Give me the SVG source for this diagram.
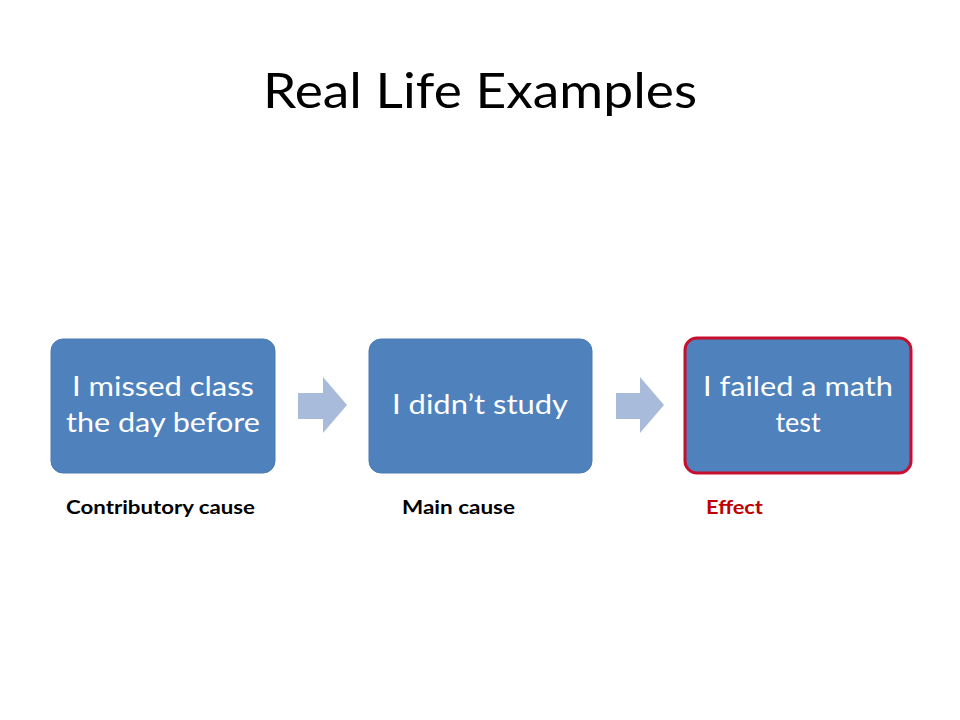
<svg xmlns="http://www.w3.org/2000/svg" width="960" height="720" viewBox="0 0 960 720">
<style>
.box{fill:#4F81BD;stroke:#4A7AB3;stroke-width:1}
.eff{fill:#4F81BD;stroke:#C8102E;stroke-width:3}
.bt{font-family:Lato,"Open Sans",sans-serif;font-size:27px;fill:#FFFFFF;text-anchor:middle}
.lab{font-family:Lato,"Open Sans",sans-serif;font-size:19px;font-weight:bold;fill:#000000}
.arr{fill:#A9BBDA}
</style>
<rect width="960" height="720" fill="#FFFFFF"/>
<text x="480" y="108" font-family="Lato,'Open Sans',sans-serif" font-size="48" fill="#000000" text-anchor="middle" textLength="434" lengthAdjust="spacingAndGlyphs">Real Life Examples</text>
<g id="node1">
<rect class="box" x="51" y="339" width="224" height="134" rx="12"/>
<text class="bt" x="163" y="396" textLength="182" lengthAdjust="spacingAndGlyphs">I missed class</text>
<text class="bt" x="163" y="432" textLength="194" lengthAdjust="spacingAndGlyphs">the day before</text>
</g>
<g id="node2">
<rect class="box" x="369" y="339" width="223" height="134" rx="12"/>
<text class="bt" x="480" y="414" textLength="176" lengthAdjust="spacingAndGlyphs">I didn’t study</text>
</g>
<g id="node3">
<rect class="eff" x="685" y="338" width="226" height="135" rx="12"/>
<text class="bt" x="798" y="396" textLength="190" lengthAdjust="spacingAndGlyphs">I failed a math</text>
<text class="bt" x="798" y="432">test</text>
</g>
<g id="connectors">
<polygon class="arr" points="298,393 323,393 323,377 347,405 323,433 323,419 298,419"/>
<polygon class="arr" points="616,393 640,393 640,377 664,405 640,433 640,419 616,419"/>
</g>
<g id="labels">
<text class="lab" x="66" y="514" textLength="189" lengthAdjust="spacingAndGlyphs">Contributory cause</text>
<text class="lab" x="402" y="514" textLength="113" lengthAdjust="spacingAndGlyphs">Main cause</text>
<text class="lab" x="706" y="514" fill="#C00000" style="fill:#C00000" textLength="57" lengthAdjust="spacingAndGlyphs">Effect</text>
</g>
</svg>
